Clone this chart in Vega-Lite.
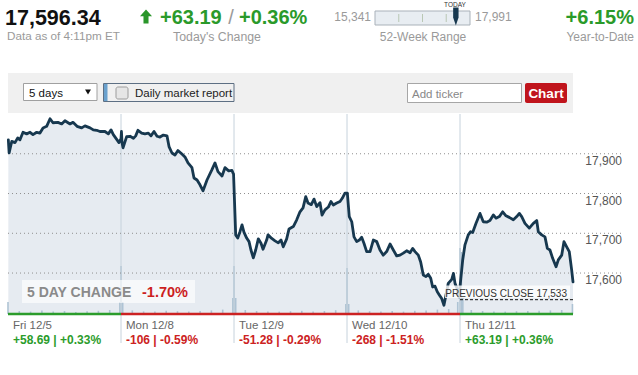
{
"$schema": "https://vega.github.io/schema/vega-lite/v6.json",
"width": 638, "height": 375, "autosize": "none", "padding": 0, "background": "#ffffff",
"config": {"view": {"stroke": null}, "font": "Liberation Sans", "text": {"font": "Liberation Sans"}},
"resolve": {"scale": {"x": "independent", "y": "independent", "color": "independent"}},
"datasets": {
"price": [
{"t":0.003,"v":17935},{"t":0.01,"v":17902},{"t":0.033,"v":17931},{"t":0.062,"v":17928},{"t":0.086,"v":17940},{"t":0.106,"v":17935},{"t":0.133,"v":17954},{"t":0.165,"v":17950},{"t":0.195,"v":17954},{"t":0.221,"v":17948},{"t":0.254,"v":17954},{"t":0.283,"v":17952},{"t":0.31,"v":17965},{"t":0.342,"v":17969},{"t":0.372,"v":17988},{"t":0.398,"v":17978},{"t":0.442,"v":17979},{"t":0.475,"v":17975},{"t":0.504,"v":17983},{"t":0.549,"v":17975},{"t":0.575,"v":17979},{"t":0.611,"v":17969},{"t":0.652,"v":17965},{"t":0.681,"v":17970},{"t":0.726,"v":17965},{"t":0.755,"v":17960},{"t":0.785,"v":17959},{"t":0.814,"v":17956},{"t":0.858,"v":17956},{"t":0.888,"v":17950},{"t":0.912,"v":17960},{"t":0.932,"v":17948},{"t":0.965,"v":17935},{"t":0.982,"v":17928},{"t":1.0,"v":17938},
{"t":1.004,"v":17956},{"t":1.009,"v":17928},{"t":1.018,"v":17915},{"t":1.05,"v":17943},{"t":1.08,"v":17944},{"t":1.11,"v":17939},{"t":1.13,"v":17945},{"t":1.15,"v":17959},{"t":1.183,"v":17952},{"t":1.212,"v":17950},{"t":1.242,"v":17952},{"t":1.265,"v":17945},{"t":1.292,"v":17956},{"t":1.319,"v":17944},{"t":1.345,"v":17942},{"t":1.375,"v":17947},{"t":1.407,"v":17945},{"t":1.425,"v":17918},{"t":1.451,"v":17902},{"t":1.478,"v":17897},{"t":1.504,"v":17908},{"t":1.537,"v":17900},{"t":1.566,"v":17892},{"t":1.593,"v":17877},{"t":1.628,"v":17865},{"t":1.646,"v":17839},{"t":1.673,"v":17834},{"t":1.699,"v":17822},{"t":1.726,"v":17807},{"t":1.761,"v":17834},{"t":1.805,"v":17860},{"t":1.832,"v":17877},{"t":1.858,"v":17855},{"t":1.894,"v":17844},{"t":1.92,"v":17865},{"t":1.953,"v":17857},{"t":1.982,"v":17858},{"t":1.991,"v":17852},{"t":1.996,"v":17849},
{"t":2.015,"v":17696},{"t":2.033,"v":17688},{"t":2.053,"v":17704},{"t":2.071,"v":17721},{"t":2.088,"v":17703},{"t":2.112,"v":17688},{"t":2.133,"v":17679},{"t":2.15,"v":17658},{"t":2.171,"v":17638},{"t":2.192,"v":17658},{"t":2.215,"v":17686},{"t":2.239,"v":17675},{"t":2.257,"v":17660},{"t":2.289,"v":17683},{"t":2.301,"v":17696},{"t":2.334,"v":17687},{"t":2.363,"v":17681},{"t":2.392,"v":17676},{"t":2.416,"v":17683},{"t":2.436,"v":17666},{"t":2.466,"v":17686},{"t":2.487,"v":17711},{"t":2.525,"v":17717},{"t":2.555,"v":17734},{"t":2.584,"v":17754},{"t":2.611,"v":17764},{"t":2.635,"v":17792},{"t":2.655,"v":17776},{"t":2.684,"v":17772},{"t":2.708,"v":17786},{"t":2.732,"v":17767},{"t":2.761,"v":17777},{"t":2.779,"v":17746},{"t":2.805,"v":17759},{"t":2.835,"v":17766},{"t":2.858,"v":17780},{"t":2.879,"v":17771},{"t":2.909,"v":17776},{"t":2.938,"v":17780},{"t":2.958,"v":17788},{"t":2.982,"v":17801},{"t":3.003,"v":17801},
{"t":3.02,"v":17742},{"t":3.042,"v":17729},{"t":3.062,"v":17691},{"t":3.086,"v":17679},{"t":3.109,"v":17683},{"t":3.13,"v":17690},{"t":3.15,"v":17675},{"t":3.174,"v":17654},{"t":3.204,"v":17654},{"t":3.233,"v":17683},{"t":3.263,"v":17679},{"t":3.292,"v":17658},{"t":3.321,"v":17645},{"t":3.351,"v":17654},{"t":3.381,"v":17673},{"t":3.41,"v":17658},{"t":3.44,"v":17643},{"t":3.469,"v":17645},{"t":3.498,"v":17650},{"t":3.528,"v":17656},{"t":3.558,"v":17651},{"t":3.581,"v":17662},{"t":3.602,"v":17654},{"t":3.631,"v":17645},{"t":3.652,"v":17628},{"t":3.675,"v":17595},{"t":3.699,"v":17591},{"t":3.719,"v":17597},{"t":3.741,"v":17587},{"t":3.758,"v":17565},{"t":3.779,"v":17567},{"t":3.799,"v":17553},{"t":3.817,"v":17545},{"t":3.838,"v":17536},{"t":3.858,"v":17519},{"t":3.876,"v":17545},{"t":3.896,"v":17574},{"t":3.927,"v":17584},{"t":3.942,"v":17599},{"t":3.956,"v":17574},{"t":3.973,"v":17562},{"t":3.991,"v":17540},
{"t":4.0,"v":17565},{"t":4.024,"v":17633},{"t":4.044,"v":17671},{"t":4.073,"v":17696},{"t":4.094,"v":17704},{"t":4.112,"v":17702},{"t":4.142,"v":17725},{"t":4.177,"v":17750},{"t":4.206,"v":17729},{"t":4.236,"v":17728},{"t":4.265,"v":17732},{"t":4.295,"v":17746},{"t":4.319,"v":17738},{"t":4.348,"v":17742},{"t":4.378,"v":17754},{"t":4.407,"v":17744},{"t":4.436,"v":17740},{"t":4.472,"v":17734},{"t":4.502,"v":17742},{"t":4.525,"v":17750},{"t":4.546,"v":17742},{"t":4.575,"v":17725},{"t":4.613,"v":17713},{"t":4.649,"v":17725},{"t":4.679,"v":17732},{"t":4.693,"v":17704},{"t":4.723,"v":17696},{"t":4.752,"v":17691},{"t":4.773,"v":17662},{"t":4.796,"v":17658},{"t":4.82,"v":17637},{"t":4.85,"v":17616},{"t":4.87,"v":17633},{"t":4.9,"v":17645},{"t":4.92,"v":17679},{"t":4.944,"v":17666},{"t":4.967,"v":17654},{"t":4.988,"v":17608},{"t":5.0,"v":17578}
],
"volume": [
{"t":0.0,"vol":6},{"t":0.1,"vol":1.5},{"t":0.2,"vol":1.2},{"t":0.3,"vol":1.8},{"t":0.4,"vol":1.2},{"t":0.5,"vol":1.5},{"t":0.6,"vol":1.0},{"t":0.7,"vol":1.4},{"t":0.8,"vol":1.6},{"t":0.9,"vol":2.0},{"t":0.99,"vol":6},
{"t":1.0,"vol":24},{"t":1.015,"vol":6},{"t":1.1,"vol":1.8},{"t":1.2,"vol":1.3},{"t":1.3,"vol":1.2},{"t":1.4,"vol":1.6},{"t":1.5,"vol":1.4},{"t":1.6,"vol":1.2},{"t":1.7,"vol":1.5},{"t":1.8,"vol":1.8},{"t":1.9,"vol":2.2},{"t":1.99,"vol":8},
{"t":2.0,"vol":24},{"t":2.015,"vol":8},{"t":2.1,"vol":2.0},{"t":2.2,"vol":1.5},{"t":2.3,"vol":1.3},{"t":2.4,"vol":1.2},{"t":2.5,"vol":1.4},{"t":2.6,"vol":1.6},{"t":2.7,"vol":1.3},{"t":2.8,"vol":1.5},{"t":2.9,"vol":1.9},{"t":2.99,"vol":5},
{"t":3.0,"vol":23},{"t":3.015,"vol":5},{"t":3.1,"vol":1.8},{"t":3.2,"vol":1.4},{"t":3.3,"vol":1.3},{"t":3.4,"vol":1.5},{"t":3.5,"vol":1.2},{"t":3.6,"vol":1.6},{"t":3.7,"vol":1.8},{"t":3.8,"vol":2.2},{"t":3.9,"vol":2.5},{"t":3.98,"vol":6},
{"t":4.0,"vol":33},{"t":4.012,"vol":31},{"t":4.025,"vol":8},{"t":4.1,"vol":2.0},{"t":4.2,"vol":1.5},{"t":4.3,"vol":1.3},{"t":4.4,"vol":1.2},{"t":4.5,"vol":1.4},{"t":4.6,"vol":1.5},{"t":4.7,"vol":1.6},{"t":4.8,"vol":1.8},{"t":4.9,"vol":2.0},{"t":4.995,"vol":5}
],
"days": [
{"t":0,"t_end":1,"day":"Fri 12/5","chg":"+58.69 | +0.33%","dir":"up"},
{"t":1,"t_end":2,"day":"Mon 12/8","chg":"-106 | -0.59%","dir":"down"},
{"t":2,"t_end":3,"day":"Tue 12/9","chg":"-51.28 | -0.29%","dir":"down"},
{"t":3,"t_end":4,"day":"Wed 12/10","chg":"-268 | -1.51%","dir":"down"},
{"t":4,"t_end":5,"day":"Thu 12/11","chg":"+63.19 | +0.36%","dir":"up"}
],
"grid": [{"v":17600},{"v":17700},{"v":17800},{"v":17900}],
"prev": [{"t0":4,"t1":5,"close":17533,"label":"PREVIOUS CLOSE 17,533"}],
"range52": [{"low":15341,"high":17991,"last":17596.34}],
"range52ticks": [{"q":16004},{"q":16666},{"q":17328}],
"quote": [{"last":"17,596.34","asof":"Data as of 4:11pm ET","chg":"+63.19","pct":"+0.36%","ytd":"+6.15%"}]
},
"layer": [
{"data":{"values":[{}]},"mark":{"type":"rect","x":8,"x2":573,"y":73,"y2":113,"fill":"#f0f0f0"}},
{"data":{"values":[{}]},"mark":{"type":"rule","x":8,"x2":573,"y":113.5,"stroke":"#c8c8c8","strokeWidth":1},"encoding":{}},
{"data":{"name":"price"},"mark":{"type":"area","fill":"#e6ebf1"},
 "encoding":{"x":{"field":"t","type":"quantitative","scale":{"domain":[0,5],"range":[8,573],"nice":false,"zero":false},"axis":null},
 "y":{"field":"v","type":"quantitative","scale":{"domain":[17497,18000],"range":[314,114],"nice":false,"zero":false},"axis":null},
 "y2":{"datum":17497}}},
{"data":{"name":"volume"},"mark":{"type":"rule","stroke":"#aec3d4","strokeWidth":1.6},
 "encoding":{"x":{"field":"t","type":"quantitative","scale":{"domain":[0,5],"range":[8,573],"nice":false,"zero":false},"axis":null},
 "y":{"field":"vol","type":"quantitative","scale":{"domain":[0,100],"range":[314,114],"nice":false,"zero":false},"axis":null},
 "y2":{"datum":0}}},
{"data":{"name":"days"},"transform":[{"filter":"datum.t > 0"}],"mark":{"type":"rule","stroke":"#c6d2dc","strokeWidth":1,"y":114,"y2":343},
 "encoding":{"x":{"field":"t","type":"quantitative","scale":{"domain":[0,5],"range":[8,573],"nice":false,"zero":false},"axis":null}}},
{"data":{"name":"grid"},"mark":{"type":"rule","stroke":"#8f8f8f","strokeDash":[1,3],"strokeWidth":1,"x":8,"x2":622},
 "encoding":{"y":{"field":"v","type":"quantitative","scale":{"domain":[17497,18000],"range":[314,114],"nice":false,"zero":false},"axis":null}}},
{"data":{"name":"grid"},"mark":{"type":"text","x":622,"align":"right","baseline":"alphabetic","dy":11,"fontSize":12,"fill":"#555555"},
 "encoding":{"y":{"field":"v","type":"quantitative","scale":{"domain":[17497,18000],"range":[314,114],"nice":false,"zero":false},"axis":null},
 "text":{"field":"v","type":"quantitative","format":","}}},
{"data":{"name":"price"},"mark":{"type":"line","stroke":"#17384f","strokeWidth":2.8,"strokeJoin":"round","strokeCap":"round"},
 "encoding":{"x":{"field":"t","type":"quantitative","scale":{"domain":[0,5],"range":[8,573],"nice":false,"zero":false},"axis":null},
 "y":{"field":"v","type":"quantitative","scale":{"domain":[17497,18000],"range":[314,114],"nice":false,"zero":false},"axis":null}}},
{"data":{"name":"prev"},"mark":{"type":"rule","stroke":"#111111","strokeDash":[3,2],"strokeWidth":1},
 "encoding":{"x":{"field":"t0","type":"quantitative","scale":{"domain":[0,5],"range":[8,573],"nice":false,"zero":false},"axis":null},
 "x2":{"field":"t1"},
 "y":{"field":"close","type":"quantitative","scale":{"domain":[17497,18000],"range":[314,114],"nice":false,"zero":false},"axis":null}}},
{"data":{"values":[{}]},"mark":{"type":"rect","x":445,"x2":570,"y":285.5,"y2":298,"fill":"#ffffff","opacity":0.8}},
{"data":{"name":"prev"},"mark":{"type":"text","align":"right","baseline":"alphabetic","dx":-6,"dy":-3,"fontSize":10,"fill":"#333333"},
 "encoding":{"x":{"field":"t1","type":"quantitative","scale":{"domain":[0,5],"range":[8,573],"nice":false,"zero":false},"axis":null},
 "y":{"field":"close","type":"quantitative","scale":{"domain":[17497,18000],"range":[314,114],"nice":false,"zero":false},"axis":null},
 "text":{"field":"label"}}},
{"data":{"values":[{}]},"mark":{"type":"rect","x":22,"x2":195,"y":280,"y2":303,"fill":"#ffffff","opacity":0.65}},
{"data":{"values":[{"txt":"5 DAY CHANGE"}]},"mark":{"type":"text","x":27,"y":297,"align":"left","baseline":"alphabetic","fontSize":14,"fontWeight":"bold","fill":"#8a8a8a"},"encoding":{"text":{"field":"txt"}}},
{"data":{"values":[{"txt":"-1.70%"}]},"mark":{"type":"text","x":142,"y":297,"align":"left","baseline":"alphabetic","fontSize":14.5,"fontWeight":"bold","fill":"#cc1f1f"},"encoding":{"text":{"field":"txt"}}},
{"data":{"name":"days"},"mark":{"type":"rule","strokeWidth":2.5,"y":314},
 "encoding":{"x":{"field":"t","type":"quantitative","scale":{"domain":[0,5],"range":[8,573],"nice":false,"zero":false},"axis":null},
 "x2":{"field":"t_end"},
 "color":{"field":"dir","type":"nominal","scale":{"domain":["up","down"],"range":["#2b9c2b","#cc2222"]},"legend":null}}},
{"data":{"values":[{}]},"mark":{"type":"rule","x":573,"x2":622,"y":314,"stroke":"#9a9a9a","strokeWidth":2},"encoding":{}},
{"data":{"name":"days"},"mark":{"type":"text","align":"left","dx":5,"y":329,"baseline":"alphabetic","fontSize":11.5,"fill":"#666666"},
 "encoding":{"x":{"field":"t","type":"quantitative","scale":{"domain":[0,5],"range":[8,573],"nice":false,"zero":false},"axis":null},
 "text":{"field":"day"}}},
{"data":{"name":"days"},"mark":{"type":"text","align":"left","dx":5,"y":344,"baseline":"alphabetic","fontSize":12,"fontWeight":"bold"},
 "encoding":{"x":{"field":"t","type":"quantitative","scale":{"domain":[0,5],"range":[8,573],"nice":false,"zero":false},"axis":null},
 "text":{"field":"chg"},
 "color":{"field":"dir","type":"nominal","scale":{"domain":["up","down"],"range":["#2b9c2b","#cc2222"]},"legend":null}}},
{"data":{"values":[{}]},"mark":{"type":"rule","x":7,"x2":574,"y":72,"stroke":"#a9a9a9","strokeWidth":1.5},"encoding":{}},
{"data":{"values":[{}]},"mark":{"type":"rule","x":7.5,"y":72,"y2":350,"stroke":"#a9a9a9","strokeWidth":1.5},"encoding":{}},
{"data":{"values":[{}]},"mark":{"type":"rule","x":573.5,"y":72,"y2":350,"stroke":"#a9a9a9","strokeWidth":1.5},"encoding":{}},
{"data":{"values":[{}]},"mark":{"type":"rect","x":23.5,"x2":97,"y":83.5,"y2":100.5,"fill":"#ffffff","stroke":"#a0a0a0","strokeWidth":1}},
{"data":{"values":[{"txt":"5 days"}]},"mark":{"type":"text","x":29,"y":96.5,"align":"left","baseline":"alphabetic","fontSize":11.5,"fill":"#111111"},"encoding":{"text":{"field":"txt"}}},
{"data":{"values":[{}]},"mark":{"type":"point","shape":"triangle-down","x":88,"y":92,"size":35,"filled":true,"fill":"#111111","opacity":1}},
{"data":{"values":[{}]},"mark":{"type":"rect","x":103.5,"x2":234,"y":83.5,"y2":101.5,"fill":"#f0f0f0","stroke":"#5d6f83","strokeWidth":1}},
{"data":{"values":[{}]},"mark":{"type":"rect","x":104,"x2":107.5,"y":84,"y2":101,"fill":"#6aa1cd"}},
{"data":{"values":[{}]},"mark":{"type":"rect","x":116,"x2":128,"y":87,"y2":99,"fill":"#e6e6e6","stroke":"#9c9c9c","strokeWidth":1,"cornerRadius":2}},
{"data":{"values":[{"txt":"Daily market report"}]},"mark":{"type":"text","x":135,"y":97,"align":"left","baseline":"alphabetic","fontSize":11.5,"fill":"#222222"},"encoding":{"text":{"field":"txt"}}},
{"data":{"values":[{}]},"mark":{"type":"rect","x":407.5,"x2":521.5,"y":83.5,"y2":102.5,"fill":"#ffffff","stroke":"#a6a6a6","strokeWidth":1}},
{"data":{"values":[{"txt":"Add ticker"}]},"mark":{"type":"text","x":412,"y":97.5,"align":"left","baseline":"alphabetic","fontSize":11.5,"fill":"#888888"},"encoding":{"text":{"field":"txt"}}},
{"data":{"values":[{}]},"mark":{"type":"rect","x":525,"x2":567,"y":83,"y2":103,"fill":"#c0141c","cornerRadius":2}},
{"data":{"values":[{"txt":"Chart"}]},"mark":{"type":"text","x":546,"y":98,"align":"center","baseline":"alphabetic","fontSize":13.5,"fontWeight":"bold","fill":"#ffffff"},"encoding":{"text":{"field":"txt"}}},
{"data":{"name":"quote"},"mark":{"type":"text","x":5,"y":25,"align":"left","baseline":"alphabetic","fontSize":21.5,"fontWeight":"bold","fill":"#111111"},"encoding":{"text":{"field":"last"}}},
{"data":{"name":"quote"},"mark":{"type":"text","x":7,"y":40,"align":"left","baseline":"alphabetic","fontSize":11.7,"fill":"#9a9a9a"},"encoding":{"text":{"field":"asof"}}},
{"data":{"values":[{}]},"mark":{"type":"point","shape":"M0,-1L0.86,-0.05L0.36,-0.05L0.36,1L-0.36,1L-0.36,-0.05L-0.86,-0.05Z","x":146,"y":16.5,"size":196,"filled":true,"fill":"#2a962a","opacity":1,"strokeWidth":0}},
{"data":{"name":"quote"},"mark":{"type":"text","x":160,"y":23.5,"align":"left","baseline":"alphabetic","fontSize":20,"fontWeight":"bold","fill":"#2a9a2a"},"encoding":{"text":{"field":"chg"}}},
{"data":{"values":[{"txt":"/"}]},"mark":{"type":"text","x":231,"y":23.5,"align":"center","baseline":"alphabetic","fontSize":20,"fill":"#9a9a9a"},"encoding":{"text":{"field":"txt"}}},
{"data":{"name":"quote"},"mark":{"type":"text","x":239,"y":23.5,"align":"left","baseline":"alphabetic","fontSize":20,"fontWeight":"bold","fill":"#2a9a2a"},"encoding":{"text":{"field":"pct"}}},
{"data":{"values":[{"txt":"Today's Change"}]},"mark":{"type":"text","x":217,"y":40.5,"align":"center","baseline":"alphabetic","fontSize":12.3,"fill":"#9a9a9a"},"encoding":{"text":{"field":"txt"}}},
{"data":{"name":"range52"},"mark":{"type":"rect","y":11,"y2":25,"fill":"#e8edf2","stroke":"#a9b1b9","strokeWidth":1},
 "encoding":{"x":{"field":"low","type":"quantitative","scale":{"domain":[15341,17991],"range":[375,470],"nice":false,"zero":false},"axis":null},"x2":{"field":"high"}}},
{"data":{"name":"range52ticks"},"mark":{"type":"rule","y":14,"y2":22,"stroke":"#b9c7b4","strokeWidth":1},
 "encoding":{"x":{"field":"q","type":"quantitative","scale":{"domain":[15341,17991],"range":[375,470],"nice":false,"zero":false},"axis":null}}},
{"data":{"name":"range52"},"mark":{"type":"point","shape":"M-0.3,-1L0.3,-1L0.3,0.1L0,1L-0.3,0.1Z","y":16.5,"size":324,"filled":true,"fill":"#17384f","opacity":1,"strokeWidth":0},
 "encoding":{"x":{"field":"last","type":"quantitative","scale":{"domain":[15341,17991],"range":[375,470],"nice":false,"zero":false},"axis":null}}},
{"data":{"values":[{"txt":"TODAY"}]},"mark":{"type":"text","x":455,"y":7,"align":"center","baseline":"alphabetic","fontSize":6.5,"fill":"#333333"},"encoding":{"text":{"field":"txt"}}},
{"data":{"name":"range52"},"mark":{"type":"text","y":21,"dx":-4,"align":"right","baseline":"alphabetic","fontSize":12,"fill":"#9a9a9a"},
 "encoding":{"x":{"field":"low","type":"quantitative","scale":{"domain":[15341,17991],"range":[375,470],"nice":false,"zero":false},"axis":null},"text":{"field":"low","type":"quantitative","format":","}}},
{"data":{"name":"range52"},"mark":{"type":"text","y":21,"dx":5,"align":"left","baseline":"alphabetic","fontSize":12,"fill":"#9a9a9a"},
 "encoding":{"x":{"field":"high","type":"quantitative","scale":{"domain":[15341,17991],"range":[375,470],"nice":false,"zero":false},"axis":null},"text":{"field":"high","type":"quantitative","format":","}}},
{"data":{"values":[{"txt":"52-Week Range"}]},"mark":{"type":"text","x":423,"y":41,"align":"center","baseline":"alphabetic","fontSize":12,"fill":"#9a9a9a"},"encoding":{"text":{"field":"txt"}}},
{"data":{"name":"quote"},"mark":{"type":"text","x":634,"y":24,"align":"right","baseline":"alphabetic","fontSize":20,"fontWeight":"bold","fill":"#2a9a2a"},"encoding":{"text":{"field":"ytd"}}},
{"data":{"values":[{"txt":"Year-to-Date"}]},"mark":{"type":"text","x":634,"y":40.5,"align":"right","baseline":"alphabetic","fontSize":12,"fill":"#9a9a9a"},"encoding":{"text":{"field":"txt"}}}
]
}
